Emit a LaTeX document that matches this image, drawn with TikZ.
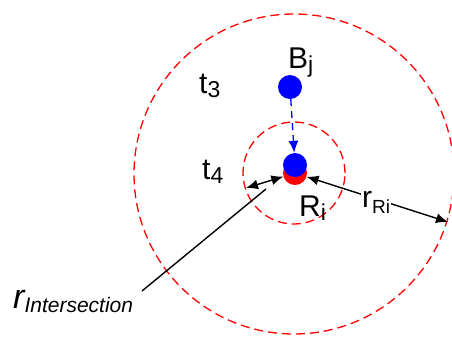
\documentclass[tikz,border=0pt]{standalone}
\usepackage{fontspec}
\setmainfont{Liberation Sans}
\usetikzlibrary{arrows.meta}
\newcommand{\lowsub}[2][23]{\raisebox{-4pt}{\fontsize{#1}{#1}\selectfont #2}}

\begin{document}
\begin{tikzpicture}[x=1pt, y=-1pt,
    zone/.style = {draw=red, dash pattern=on 9pt off 5pt, line width=1.3pt},
    dot/.style = {circle, inner sep=0pt, minimum size=24pt},
    lbl/.style = {inner sep=0pt, anchor=base west, font=\fontsize{30}{30}\selectfont}]
            \useasboundingbox (0,0) rectangle (452,338);

            \draw[zone] (294,174) circle (160pt);
            \draw[zone] (294,173) circle (51pt);

            \node[dot, fill=blue] (bj) at (290,87) {};
            \node[dot, fill=red] (ri) at (295,173) {};
            \node[dot, fill=blue] (bjmoved) at (295,165) {};

            \coordinate (edgeri) at (246,188);
            \coordinate (edgeint) at (448,222);
            \coordinate (lineend) at (266,189);
            \coordinate (linestart) at (142,291);

            \path[-{Latex[length=12pt, width=10pt]}, blue, line width=1.3pt, dash pattern=on 7pt off 5pt] (bj) edge (bjmoved);
            \path[{Latex[length=12pt, width=10pt]}-{Latex[length=12pt, width=10pt]}, line width=1.4pt] (edgeri) edge (ri);
            \path[{Latex[length=12pt, width=10pt]}-{Latex[length=12pt, width=10pt]}, line width=1.4pt] (ri) edge (edgeint);
            \path[line width=1.4pt] (linestart) edge (lineend);

            \node[lbl] (bjlabel) at (288,68) {B\lowsub{j}};
            \node[lbl] (t3) at (199,93) {t\lowsub{3}};
            \node[lbl] (t4) at (202,179) {t\lowsub{4}};
            \node[lbl] (rilabel) at (299,216) {R\lowsub{i}};
            \node[lbl, fill=white, inner sep=1pt] (rri) at (361,207) {\fontsize{30}{30}\selectfont r\raisebox{-2pt}{\lowsub[19]{Ri}}};
            \node[lbl] (rint) at (13,308) {\fontsize{34}{34}\selectfont\itshape r\lowsub[21]{\itshape Intersection}};
        \end{tikzpicture}
\end{document}
